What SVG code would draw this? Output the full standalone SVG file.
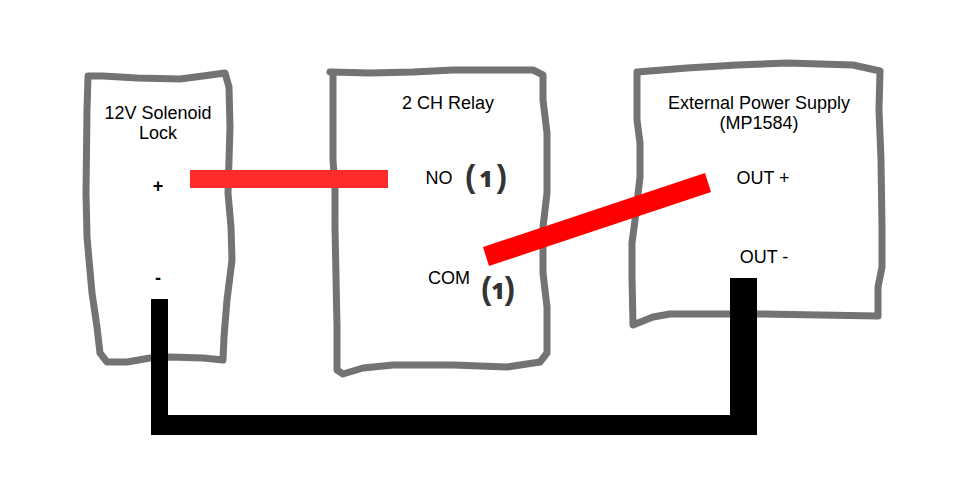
<svg xmlns="http://www.w3.org/2000/svg" width="954" height="494" viewBox="0 0 954 494">
<style>
.box{fill:none;stroke:#737373;stroke-width:7;stroke-linejoin:round;stroke-linecap:round}
.t{font-family:"Liberation Sans",Arial,sans-serif;font-size:18px;fill:#000;text-anchor:middle}
.b{font-weight:700}
.hand{font-family:"Open Sans","DejaVu Sans",sans-serif;font-weight:800;font-size:23px;fill:#333;text-anchor:middle}
.p{font-family:"Liberation Sans",Arial,sans-serif;font-weight:700;font-size:31px}
</style>
<rect width="954" height="494" fill="#fff"/>
<g id="node-solenoid">
<path class="box" d="M88 76 L103 76 L137 78 L180 79 L203 76 L225 73 L229 87 L230 127 L229 160 L228 193 L231 227 L232 260 L227 300 L224 337 L223 360 L203 358 L170 357 L150 358 L127 362 L107 362 L100 353 L97 327 L92 293 L87 237 L86 193 L87 110 Z"/>
<text class="t" x="158" y="119">12V Solenoid</text>
<text class="t" x="158" y="139">Lock</text>
<text class="t b" x="158" y="192">+</text>
<text class="t b" x="158" y="284">-</text>
</g>
<g id="node-relay">
<path class="box" d="M330 72 L370 73 L413 72 L453 70 L533 70 L543 75 L543 100 L547 133 L547 193 L543 227 L543 273 L547 307 L547 353 L540 362 L507 367 L453 365 L393 365 L363 368 L343 374 L337 370 L337 327 L335 227 L335 190 L333 160 L333 93 L333 72"/>
<text class="t" x="448" y="109">2 CH Relay</text>
<text class="t" x="439" y="184">NO</text>
<text class="t" x="449" y="284">COM</text>
<text class="hand" x="486" y="187"><tspan class="p">(</tspan><tspan dx="4">1</tspan><tspan class="p" dx="4">)</tspan></text>
<text class="hand" x="498" y="299"><tspan class="p">(</tspan><tspan>1</tspan><tspan class="p">)</tspan></text>
</g>
<g id="node-supply">
<path class="box" d="M637 72 L687 68 L737 65 L787 63 L853 65 L880 71 L879 110 L881 160 L882 227 L882 267 L878 287 L878 316 L820 315 L760 314 L670 314 L653 317 L633 325 L632 277 L632 243 L635 220 L640 177 L640 143 L637 120 Z"/>
<text class="t" x="759" y="109">External Power Supply</text>
<text class="t" x="759" y="129">(MP1584)</text>
<text class="t" x="763" y="184">OUT +</text>
<text class="t" x="764" y="263">OUT -</text>
</g>
<g id="connectors">
<rect x="190" y="170" width="198" height="18" fill="#ff2a2a"/>
<polygon points="483,247 705,173 711,192 489,266" fill="#f00"/>
<path d="M151 299 H168 V415 H730 V278 H757 V435 H151 Z" fill="#000"/>
</g>
</svg>
